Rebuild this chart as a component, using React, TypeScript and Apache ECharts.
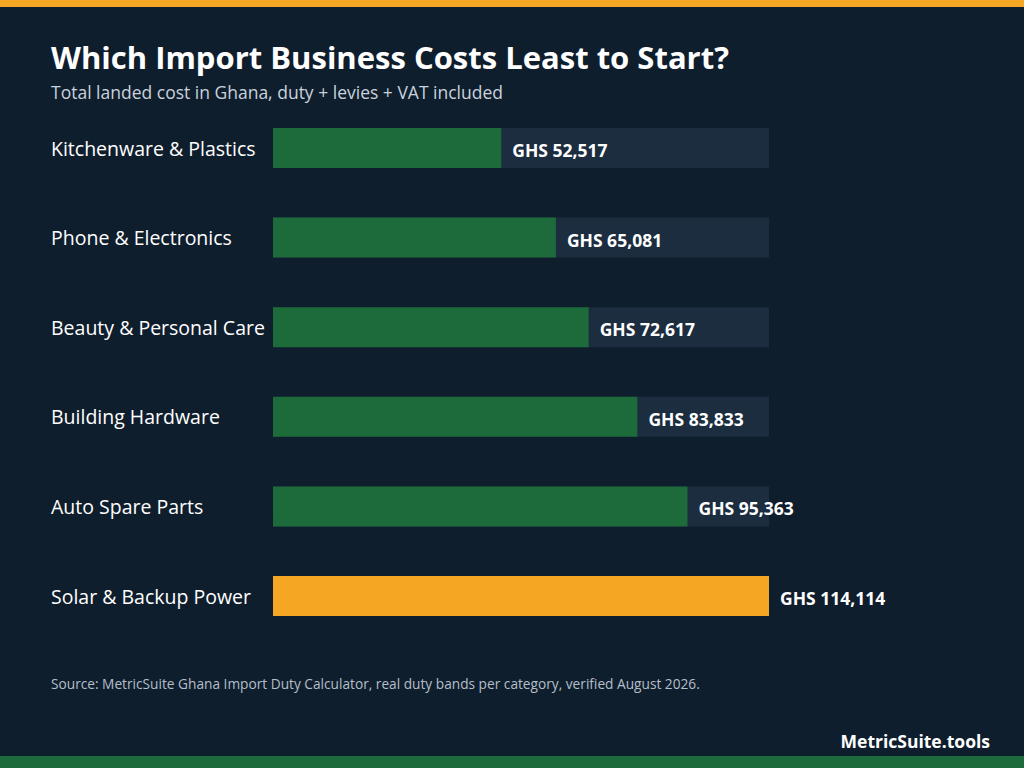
import { useEffect, useRef } from 'react';
import * as echarts from 'echarts';

const categories = [
  'Kitchenware & Plastics',
  'Phone & Electronics',
  'Beauty & Personal Care',
  'Building Hardware',
  'Auto Spare Parts',
  'Solar & Backup Power',
];
const costs = [52517, 65081, 72617, 83833, 95363, 114114];
const highlight = 'Solar & Backup Power';

const FONT = "'Open Sans', 'Noto Sans', sans-serif";
const BG = '#0f1e2d';
const GREEN = '#1d6b3a';
const ORANGE = '#f5a623';
const TRACK = '#1b2d3f';

export default function App() {
  const chartRef = useRef<HTMLDivElement | null>(null);

  useEffect(() => {
    document.body.style.margin = '0';
    if (!chartRef.current) return;
    const chart = echarts.init(chartRef.current, undefined, { renderer: 'svg' });

    chart.setOption({
      animation: false,
      backgroundColor: BG,
      textStyle: { fontFamily: FONT },
      title: [
        {
          text: 'Which Import Business Costs Least to Start?',
          left: 51,
          top: 41,
          padding: 0,
          textStyle: {
            color: '#ffffff',
            fontSize: 31,
            lineHeight: 31,
            fontWeight: 'bold',
            fontFamily: FONT,
          },
        },
        {
          text: 'Total landed cost in Ghana, duty + levies + VAT included',
          left: 51,
          top: 83,
          padding: 0,
          textStyle: {
            color: '#c9d2dc',
            fontSize: 17.5,
            lineHeight: 18,
            fontWeight: 'normal',
            fontFamily: FONT,
          },
        },
      ],
      grid: { left: 273, width: 496, top: 103.2, height: 537.6 },
      xAxis: { type: 'value', min: 0, max: 114114, show: false },
      yAxis: {
        type: 'category',
        data: categories,
        inverse: true,
        axisLine: { show: false },
        axisTick: { show: false },
        axisLabel: {
          align: 'left',
          margin: 222,
          color: '#ffffff',
          fontSize: 19.5,
          fontFamily: FONT,
        },
      },
      series: [
        {
          type: 'bar',
          data: costs.map((v, i) => ({
            value: v,
            itemStyle: { color: categories[i] === highlight ? ORANGE : GREEN },
          })),
          barWidth: 40,
          showBackground: true,
          backgroundStyle: { color: TRACK },
          label: {
            show: true,
            position: 'right',
            distance: 11,
            offset: [0, 2],
            color: '#ffffff',
            fontSize: 17.5,
            fontWeight: 'bold',
            fontFamily: FONT,
            formatter: (p: any) => `GHS ${Number(p.value).toLocaleString('en-US')}`,
          },
        },
      ],
      graphic: [
        { type: 'rect', shape: { x: 0, y: 0, width: 1024, height: 7 }, style: { fill: ORANGE } },
        { type: 'rect', shape: { x: 0, y: 756, width: 1024, height: 12 }, style: { fill: GREEN } },
        {
          type: 'text',
          left: 51,
          top: 676,
          style: {
            text: 'Source: MetricSuite Ghana Import Duty Calculator, real duty bands per category, verified August 2026.',
            fill: '#b4bec9',
            fontSize: 13.7,
            fontFamily: FONT,
          },
        },
        {
          type: 'text',
          right: 34,
          top: 732,
          style: {
            text: 'MetricSuite.tools',
            fill: '#ffffff',
            fontSize: 17.5,
            fontWeight: 'bold',
            fontFamily: FONT,
          },
        },
      ],
    });

    return () => chart.dispose();
  }, []);

  return <div ref={chartRef} style={{ width: 1024, height: 768 }} />;
}
